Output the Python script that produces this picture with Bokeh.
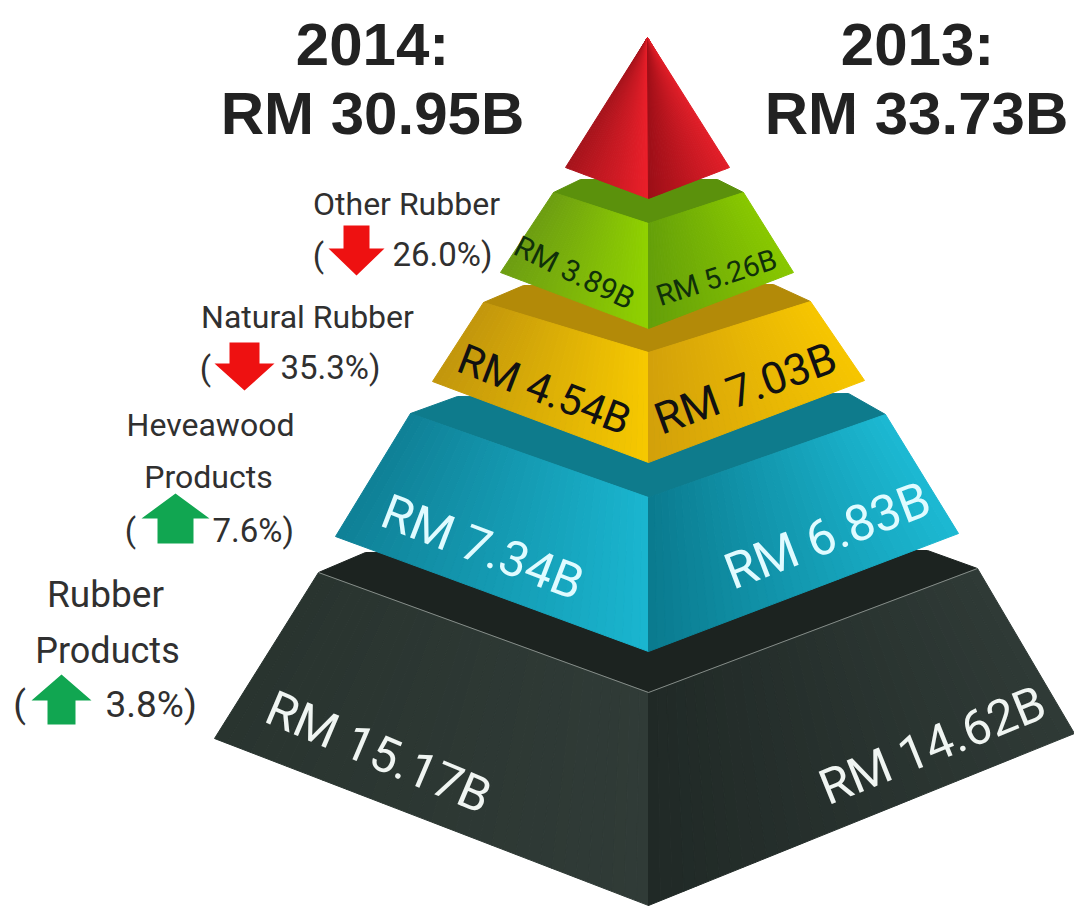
from bokeh.core.properties import value
from bokeh.embed import file_html
from bokeh.models import ColumnDataSource, Range1d
from bokeh.plotting import figure
from bokeh.resources import INLINE

# Export figures by category, RM billion
tier_names = ["Rubber Products", "Heveawood Products", "Natural Rubber", "Other Rubber"]
values_2014 = [15.17, 7.34, 4.54, 3.89]
values_2013 = [14.62, 6.83, 7.03, 5.26]
change_pct = [3.8, 7.6, 35.3, 26.0]
change_up = [True, True, False, False]
total_2014 = 30.95
total_2013 = 33.73

# Pyramid tiers, bottom to top: the outline is illustrative, not to scale.
# Each corner is (x, y) in page pixels.
centre_x = 648
tier_front_left = [(214, 738), (335, 536), (432, 381), (500, 272)]
tier_top_left = [(318, 572), (410, 413), (483, 302), (553, 192)]
tier_back_left = [(365, 552), (457, 396), (523, 285), (580, 179)]
tier_back_right = [(927, 550), (848, 393), (773, 284), (717, 179)]
tier_top_right = [(977, 568), (885, 414), (810, 301), (743, 192)]
tier_front_right = [(1074, 733), (958, 533), (864, 380), (793, 272)]
tier_v_top = [692, 497, 352, 223]
tier_v_bottom = [905, 651, 462, 328]

surface_colors = ["#1c2320", "#0e7b8c", "#b38a08", "#5b910c"]
left_colors = [("#29342f", "#303b37"), ("#0f8096", "#1ab6d0"), ("#c2960c", "#f7c900"), ("#6d9d12", "#90d200")]
right_colors = [("#202926", "#2f3a36"), ("#0a7a8e", "#1cb9d3"), ("#d2a00a", "#f7c600"), ("#659f0a", "#88c800")]

# Red cap
cap_apex = (647, 37)
cap_left = (565, 167)
cap_right = (729, 167)
cap_bottom = (648, 198)
cap_left_colors = ("#a5131b", "#ec1f2a")
cap_right_colors = ("#9c0e17", "#e21e28")


def hex_rgb(c):
    return tuple(int(c[i:i + 2], 16) for i in (1, 3, 5))


def mix(a, b, t):
    ra, rb = hex_rgb(a), hex_rgb(b)
    return "#%02x%02x%02x" % tuple(round(x + (y - x) * t) for x, y in zip(ra, rb))


def lerp(a, b, t):
    return (a[0] + (b[0] - a[0]) * t, a[1] + (b[1] - a[1]) * t)


xs, ys, fills = [], [], []


def flat(points, color):
    xs.append([q[0] for q in points])
    ys.append([q[1] for q in points])
    fills.append(color)


def shaded(tl, tr, br, bl, colors, strips=36):
    # Horizontal colour ramp built from thin side-by-side strips
    for i in range(strips):
        t0, t1 = i / strips, (i + 1) / strips
        a, b = lerp(tl, tr, t0), lerp(tl, tr, t1)
        c, d = lerp(bl, br, t1), lerp(bl, br, t0)
        flat([a, b, c, d], mix(colors[0], colors[1], (t0 + t1) / 2))


for i in range(len(tier_names)):
    v_top = (centre_x, tier_v_top[i])
    v_bot = (centre_x, tier_v_bottom[i])
    flat([tier_top_left[i], tier_back_left[i], tier_back_right[i], tier_top_right[i], v_top], surface_colors[i])
    shaded(tier_top_left[i], v_top, v_bot, tier_front_left[i], left_colors[i])
    shaded(v_top, tier_top_right[i], tier_front_right[i], v_bot, right_colors[i])

shaded(cap_apex, cap_apex, cap_bottom, cap_left, cap_left_colors)
shaded(cap_apex, cap_apex, cap_right, cap_bottom, cap_right_colors)

p = figure(width=1074, height=906, output_backend="svg", toolbar_location=None,
           x_range=Range1d(0, 1074), y_range=Range1d(906, 0), min_border=0)
p.axis.visible = False
p.grid.visible = False
p.outline_line_color = None
p.background_fill_color = "#ffffff"
p.border_fill_color = "#ffffff"

p.patches(xs="xs", ys="ys", fill_color="fills", line_color="fills", line_width=1,
          source=ColumnDataSource(dict(xs=xs, ys=ys, fills=fills)))

# Pale rim along the top of the base tier
p.line([tier_top_left[0][0], centre_x, tier_top_right[0][0]],
       [tier_top_left[0][1], tier_v_top[0], tier_top_right[0][1]],
       line_color="#858c88", line_width=1)

# Change arrows beside each tier
arrow_x = [61, 175, 244, 356]
arrow_tip_y = [674, 493, 390, 275]
arrow_tail_y = [724, 543, 342, 225]
arrow_neck_y = [700, 518, 363, 248]
arrow_head_half = [30, 34, 30, 28]
arrow_shaft_half = [14, 18, 15, 13]
ax, ay, ac = [], [], []
for i in range(4):
    c, hh, sh = arrow_x[i], arrow_head_half[i], arrow_shaft_half[i]
    tip, neck, tail = arrow_tip_y[i], arrow_neck_y[i], arrow_tail_y[i]
    ax.append([c, c + hh, c + sh, c + sh, c - sh, c - sh, c - hh])
    ay.append([tip, neck, neck, tail, tail, neck, neck])
    ac.append("#11a651" if change_up[i] else "#ee1111")
p.patches(xs="x", ys="y", fill_color="c", line_color=None, source=ColumnDataSource(dict(x=ax, y=ay, c=ac)))


def put(x, y, text, size, color="#303030", angle=0, align="center", style="normal", font="Roboto"):
    p.text([x], [y], text=[text], text_font=value(font), text_font_size=f"{size}px",
           text_font_style=style, text_color=color, angle=angle, angle_units="deg",
           text_align=align, text_baseline="middle")


# Yearly totals
put(372, 44, "2014:", 60, "#222222", style="bold", font="Liberation Sans")
put(372, 113, f"RM {total_2014:.2f}B", 60, "#222222", style="bold", font="Liberation Sans")
put(917, 44, "2013:", 60, "#222222", style="bold", font="Liberation Sans")
put(916, 113, f"RM {total_2013:.2f}B", 60, "#222222", style="bold", font="Liberation Sans")

# Tier values printed on the faces
left_label_x = [378, 482, 544, 574]
left_label_y = [752, 547, 389, 272]
left_label_angle = [-23, -21, -21, -26]
left_label_size = [49, 49, 42, 30]
right_label_x = [932, 827, 745, 716]
right_label_y = [745, 535, 388, 277]
right_label_angle = [22, 21, 20, 18]
right_label_size = [49, 50, 44, 29]
label_color = ["#f0f5f2", "#e0fbff", "#111111", "#10300a"]
for i in range(4):
    put(left_label_x[i], left_label_y[i], f"RM {values_2014[i]:.2f}B", left_label_size[i], label_color[i], left_label_angle[i])
    put(right_label_x[i], right_label_y[i], f"RM {values_2013[i]:.2f}B", right_label_size[i], label_color[i], right_label_angle[i])

# Category captions with the percentage change
put(105, 594, "Rubber", 37)
put(107, 650, "Products", 36)
put(19, 704, "(", 37)
put(105, 704, f"{change_pct[0]}%)", 37, align="left")
put(210, 424, "Heveawood", 32)
put(208, 476, "Products", 32)
put(130, 530, "(", 33)
put(212, 530, f"{change_pct[1]}%)", 33, align="left")
put(307, 316, tier_names[2], 32)
put(205, 368, "(", 33)
put(280, 367, f"{change_pct[2]}%)", 33, align="left")
put(406, 203, tier_names[3], 32)
put(318, 255, "(", 33)
put(392, 254, f"{change_pct[3]}%)", 33, align="left")

open("out.html", "w").write(file_html(p, INLINE))
